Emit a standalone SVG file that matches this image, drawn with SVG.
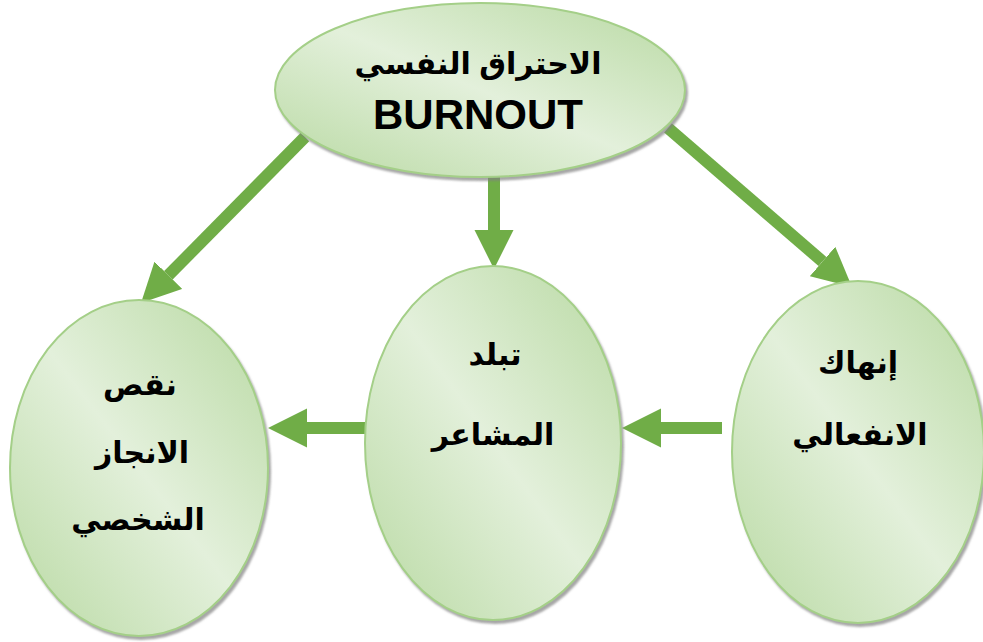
<svg xmlns="http://www.w3.org/2000/svg" width="983" height="642" viewBox="0 0 983 642">
<style>
.node ellipse{fill:url(#g);stroke:#A4CF88;stroke-width:2;filter:url(#sh)}
.t{font-family:"Liberation Sans","DejaVu Sans",sans-serif;font-weight:bold;fill:#000;text-anchor:middle}
.ar{font-size:30px}
.en{font-size:42px}
.conn line{stroke:#70AD47;stroke-width:12;marker-end:url(#ah)}
</style>
<defs>
<linearGradient id="g" x1="0" y1="1" x2="1" y2="0">
<stop offset="0" stop-color="#B8D9A2"/>
<stop offset="0.5" stop-color="#E3F0DB"/>
<stop offset="1" stop-color="#B8D9A2"/>
</linearGradient>
<filter id="sh" x="-10%" y="-10%" width="120%" height="120%">
<feDropShadow dx="2" dy="3" stdDeviation="1" flood-color="#808080" flood-opacity="0.7"/>
</filter>
<marker id="ah" markerUnits="userSpaceOnUse" markerWidth="40" markerHeight="40" refX="0" refY="19.5" orient="auto" viewBox="0 0 40 40">
<path d="M0,0 L39,19.5 L0,39 z" fill="#70AD47"/>
</marker>
</defs>
<rect width="983" height="642" fill="#fff"/>
<g id="connectors" class="conn">
<line x1="494" y1="168" x2="494" y2="230"/>
<line x1="305" y1="137" x2="168.4" y2="275.3"/>
<line x1="668" y1="128" x2="822.5" y2="261.5"/>
<line x1="722" y1="428" x2="661" y2="428"/>
<line x1="367" y1="428" x2="307" y2="428"/>
</g>
<g id="burnout" class="node">
<ellipse cx="480" cy="90" rx="205" ry="87"/>
<text class="t ar" x="478" y="74">الاحتراق النفسي</text>
<text class="t en" x="478" y="129">BURNOUT</text>
</g>
<g id="personal-accomplishment" class="node">
<ellipse cx="139" cy="468" rx="129" ry="168"/>
<text class="t ar" x="140" y="395">نقص</text>
<text class="t ar" x="142" y="463">الانجاز</text>
<text class="t ar" x="138" y="530">الشخصي</text>
</g>
<g id="depersonalization" class="node">
<ellipse cx="493" cy="443" rx="128" ry="177"/>
<text class="t ar" x="495" y="365">تبلد</text>
<text class="t ar" x="493" y="445">المشاعر</text>
</g>
<g id="emotional-exhaustion" class="node">
<ellipse cx="858" cy="452" rx="126" ry="171"/>
<text class="t ar" x="858" y="373">إنهاك</text>
<text class="t ar" x="860" y="445">الانفعالي</text>
</g>
</svg>
